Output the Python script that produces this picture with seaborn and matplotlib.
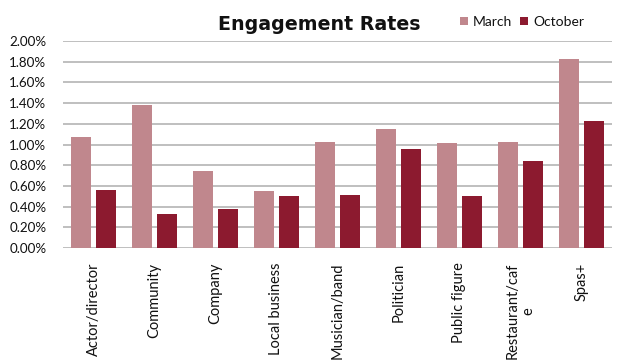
import matplotlib
matplotlib.use("Agg")
import matplotlib.pyplot as plt
from matplotlib.ticker import FuncFormatter
import seaborn as sns
import pandas as pd

categories = ["Actor/director", "Community", "Company", "Local business",
              "Musician/band", "Politician", "Public figure",
              "Restaurant/caf\ne", "Spas+"]
march = [1.07, 1.38, 0.74, 0.55, 1.02, 1.15, 1.01, 1.02, 1.83]
october = [0.56, 0.33, 0.38, 0.50, 0.51, 0.96, 0.50, 0.84, 1.23]
series = ["March", "October"]
y_ticks = [0.0, 0.2, 0.4, 0.6, 0.8, 1.0, 1.2, 1.4, 1.6, 1.8, 2.0]

df = pd.DataFrame({
    "category": categories * 2,
    "value": march + october,
    "series": [series[0]] * len(categories) + [series[1]] * len(categories),
})

sns.set_theme(style="white")
plt.rcParams["font.family"] = ["Lato", "DejaVu Sans"]

fig = plt.figure(figsize=(6.4, 3.63), dpi=100)
ax = fig.add_axes([63 / 640, 1 - 248 / 363, (612 - 63) / 640, (248 - 41) / 363])

palette = {"March": "#C0878D", "October": "#8C1A2F"}
sns.barplot(data=df, x="category", y="value", hue="series", order=categories,
            hue_order=series, palette=palette, width=0.82, gap=0.2,
            saturation=1, linewidth=0, edgecolor="none", ax=ax, legend=True)

ax.set_ylim(0, 2.0)
ax.set_xlim(-0.5, len(categories) - 0.5)
ax.set_yticks(y_ticks)
ax.yaxis.set_major_formatter(FuncFormatter(lambda v, p: f"{v:.2f}%"))
ax.grid(axis="y", color="#b4b4b4", linewidth=1.2)
ax.set_axisbelow(True)
for s in ax.spines.values():
    s.set_visible(False)
ax.set_xlabel("")
ax.set_ylabel("")
ax.tick_params(axis="y", length=0, pad=12, labelsize=9.6, labelcolor="#111111")
ax.tick_params(axis="x", length=0, pad=10.5, labelsize=10.5, labelcolor="#111111")
for lab in ax.get_xticklabels():
    lab.set_rotation(90)
    lab.set_ha("center")
    lab.set_va("top")
    lab.set_multialignment("center")

leg = ax.legend(loc="center left", bbox_to_anchor=(460 / 640, 1 - 22 / 363),
                bbox_transform=fig.transFigure, ncol=2, frameon=False,
                handlelength=0.58, handleheight=0.58, handletextpad=0.36,
                columnspacing=0.58, borderpad=0, borderaxespad=0,
                fontsize=10)
for t in leg.get_texts():
    t.set_color("#111111")

fig.text(319 / 640, 1 - 24 / 363, "Engagement Rates", ha="center", va="center",
         fontsize=13.7, fontweight="bold", family="DejaVu Sans", color="#111111")

fig.savefig("out.png", dpi=100)
